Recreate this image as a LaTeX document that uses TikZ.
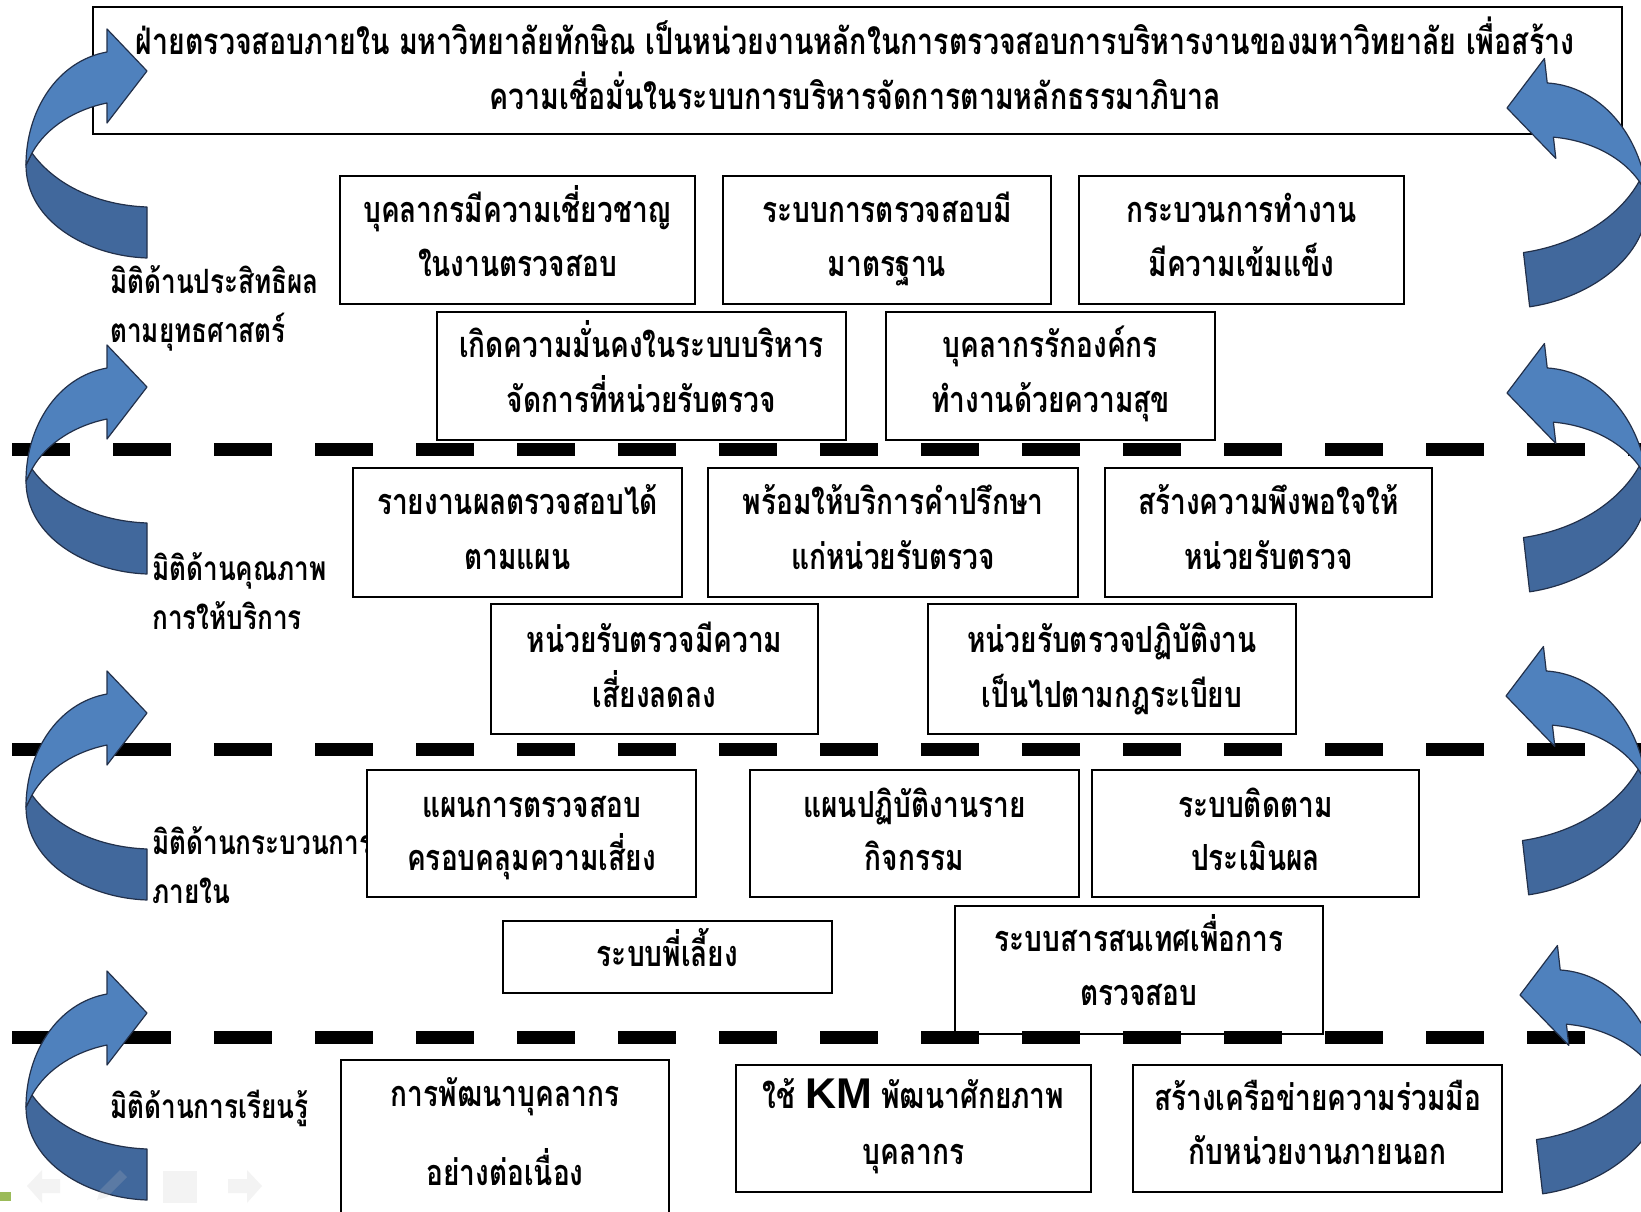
\documentclass[tikz,border=0pt]{standalone}
\usepackage{fontspec}
\newfontfamily\thaifont[Script=Thai,FakeStretch=0.78]{Loma}
\newfontfamily\kmfont{Liberation Sans}
\usetikzlibrary{fit}
\definecolor{arrowblue}{HTML}{4F81BD}
\definecolor{arrowdark}{HTML}{41689C}
\definecolor{arrowedge}{HTML}{22304A}
\definecolor{navgreen}{HTML}{9BBB59}
\tikzset{
  box/.style={draw=black, line width=1.3pt, fill=white, inner sep=0pt, outer sep=0pt},
  tl/.style={font=\thaifont\bfseries\fontsize{36}{44}\selectfont, anchor=base, inner sep=0pt},
  toptl/.style={font=\thaifont\bfseries\fontsize{36.6}{44}\selectfont, anchor=base, inner sep=0pt},
  lab/.style={font=\thaifont\bfseries\fontsize{33.5}{40}\selectfont, anchor=base west, inner sep=0pt},
  dashline/.style={line width=13pt, dash pattern=on 57.5pt off 43.5pt},
  arrlight/.style={fill=arrowblue, draw=arrowedge, line width=1.2pt, line join=round},
  arrdark/.style={fill=arrowdark, draw=arrowedge, line width=1.2pt, line join=round},
  navicon/.style={fill=gray!45, opacity=0.2, draw=none}
}
\newcommand\curvarrowshape{%
  \filldraw[arrdark] (-115,82) .. controls (-95,110) and (-55,134) .. (0,136)
    -- (0,187) .. controls (-60,185) and (-121,150) .. (-121,94) -- cycle;
  \filldraw[arrlight] (-121,94) .. controls (-121,40) and (-90,-10) .. (-40,-19)
    -- (-40,-42) -- (0,0) -- (-40,52) -- (-40,32)
    .. controls (-70,38) and (-100,55) .. (-115,82) -- cycle;
}
\begin{document}
\begin{tikzpicture}[x=1pt,y=-1pt]
\useasboundingbox (0,0) rectangle (1641,1212);
\clip (0,0) rectangle (1641,1212);
\fill[white] (0,0) rectangle (1641,1212);

% left labels
\node[lab] (L1a) at (110,293) {มิติด้านประสิทธิผล};
\node[lab] (L1b) at (110,342) {ตามยุทธศาสตร์};
\node[lab] (L2a) at (152,580) {มิติด้านคุณภาพ};
\node[lab] (L2b) at (152,629) {การให้บริการ};
\node[lab] (L3a) at (152,854) {มิติด้านกระบวนการ};
\node[lab] (L3b) at (152,903) {ภายใน};
\node[lab] (L4) at (110,1118) {มิติด้านการเรียนรู้};

% top box
\node[box, fit={(93,7) (1622,134)}] (top) {};
\node[toptl] (top1) at (855,55) {ฝ่ายตรวจสอบภายใน มหาวิทยาลัยทักษิณ เป็นหน่วยงานหลักในการตรวจสอบการบริหารงานของมหาวิทยาลัย เพื่อสร้าง};
\node[toptl] (top2) at (855,110) {ความเชื่อมั่นในระบบการบริหารจัดการตามหลักธรรมาภิบาล};

% row 1
\node[box, fit={(340,176) (695,304)}] (A) {};
\node[tl] (A1) at (517.5,222) {บุคลากรมีความเชี่ยวชาญ};
\node[tl] (A2) at (517.5,276) {ในงานตรวจสอบ};
\node[box, fit={(723,176) (1051,304)}] (B) {};
\node[tl] (B1) at (887,222) {ระบบการตรวจสอบมี};
\node[tl] (B2) at (887,276) {มาตรฐาน};
\node[box, fit={(1079,176) (1404,304)}] (C) {};
\node[tl] (C1) at (1241.5,222) {กระบวนการทำงาน};
\node[tl] (C2) at (1241.5,276) {มีความเข้มแข็ง};
% row 2
\node[box, fit={(437,312) (846,440)}] (D) {};
\node[tl] (D1) at (641.5,357) {เกิดความมั่นคงในระบบบริหาร};
\node[tl] (D2) at (641.5,412) {จัดการที่หน่วยรับตรวจ};
\node[box, fit={(886,312) (1215,440)}] (E) {};
\node[tl] (E1) at (1050.5,357) {บุคลากรรักองค์กร};
\node[tl] (E2) at (1050.5,412) {ทำงานด้วยความสุข};
% row 3
\node[box, fit={(353,468) (682,597)}] (F) {};
\node[tl] (F1) at (517.5,514) {รายงานผลตรวจสอบได้};
\node[tl] (F2) at (517.5,569) {ตามแผน};
\node[box, fit={(708,468) (1078,597)}] (G) {};
\node[tl] (G1) at (893,514) {พร้อมให้บริการคำปรึกษา};
\node[tl] (G2) at (893,569) {แก่หน่วยรับตรวจ};
\node[box, fit={(1105,468) (1432,597)}] (H) {};
\node[tl] (H1) at (1268.5,514) {สร้างความพึงพอใจให้};
\node[tl] (H2) at (1268.5,569) {หน่วยรับตรวจ};
% row 4
\node[box, fit={(491,604) (818,734)}] (I) {};
\node[tl] (I1) at (654.5,652) {หน่วยรับตรวจมีความ};
\node[tl] (I2) at (654.5,707) {เสี่ยงลดลง};
\node[box, fit={(928,604) (1296,734)}] (J) {};
\node[tl] (J1) at (1112,652) {หน่วยรับตรวจปฏิบัติงาน};
\node[tl] (J2) at (1112,707) {เป็นไปตามกฎระเบียบ};
% row 5
\node[box, fit={(367,770) (696,897)}] (K) {};
\node[tl] (K1) at (531.5,817) {แผนการตรวจสอบ};
\node[tl] (K2) at (531.5,870) {ครอบคลุมความเสี่ยง};
\node[box, fit={(750,770) (1079,897)}] (L) {};
\node[tl] (Lb1) at (914.5,817) {แผนปฏิบัติงานราย};
\node[tl] (Lb2) at (914.5,870) {กิจกรรม};
\node[box, fit={(1092,770) (1419,897)}] (M) {};
\node[tl] (M1) at (1255.5,817) {ระบบติดตาม};
\node[tl] (M2) at (1255.5,870) {ประเมินผล};
% row 6
\node[box, fit={(503,921) (832,993)}] (N) {};
\node[tl] (N1) at (667.5,966) {ระบบพี่เลี้ยง};
\node[box, fit={(955,906) (1323,1034)}] (O) {};
\node[tl] (O1) at (1139,951) {ระบบสารสนเทศเพื่อการ};
\node[tl] (O2) at (1139,1005) {ตรวจสอบ};
% row 7
\node[box, fit={(341,1060) (669,1240)}] (P) {};
\node[tl] (P1) at (505,1106) {การพัฒนาบุคลากร};
\node[tl] (P2) at (505,1185) {อย่างต่อเนื่อง};
\node[box, fit={(736,1065) (1091,1192)}] (Q) {};
\node[tl] (Q1) at (913.5,1108) {ใช้ {\kmfont\bfseries\fontsize{43}{46}\selectfont KM} พัฒนาศักยภาพ};
\node[tl] (Q2) at (913.5,1164) {บุคลากร};
\node[box, fit={(1133,1065) (1502,1192)}] (R) {};
\node[tl] (R1) at (1317.5,1110) {สร้างเครือข่ายความร่วมมือ};
\node[tl] (R2) at (1317.5,1164) {กับหน่วยงานภายนอก};

% dashed separators
\draw[dashline] (12,449) -- (1700,449);
\draw[dashline] (12,749) -- (1700,749);
\draw[dashline] (12,1037) -- (1700,1037);

% curved arrows, left side
\begin{scope}[shift={(147,71)}] \curvarrowshape \end{scope}
\begin{scope}[shift={(147,387)}] \curvarrowshape \end{scope}
\begin{scope}[shift={(147,713)}] \curvarrowshape \end{scope}
\begin{scope}[shift={(147,1013)}] \curvarrowshape \end{scope}
% curved arrows, right side (mirrored)
\begin{scope}[shift={(1507,108)}, rotate=6.5, xscale=-1, scale=1.07] \curvarrowshape \end{scope}
\begin{scope}[shift={(1507,393)}, rotate=6.5, xscale=-1, scale=1.07] \curvarrowshape \end{scope}
\begin{scope}[shift={(1506,696)}, rotate=6.5, xscale=-1, scale=1.07] \curvarrowshape \end{scope}
\begin{scope}[shift={(1520,995)}, rotate=6.5, xscale=-1, scale=1.07] \curvarrowshape \end{scope}

% faint slide navigation icons
\fill[navgreen] (0,1192) rectangle (11,1201);
\fill[navicon] (27,1186) -- (42,1170) -- (42,1179) -- (60,1179) -- (60,1193) -- (42,1193) -- (42,1203) -- cycle;
\fill[navicon] (97,1200) -- (100,1190) -- (120,1170) -- (127,1177) -- (107,1197) -- cycle;
\fill[navicon] (163,1171) rectangle (197,1203);
\fill[navicon] (262,1186) -- (247,1170) -- (247,1179) -- (228,1179) -- (228,1193) -- (247,1193) -- (247,1203) -- cycle;
\end{tikzpicture}
\end{document}
